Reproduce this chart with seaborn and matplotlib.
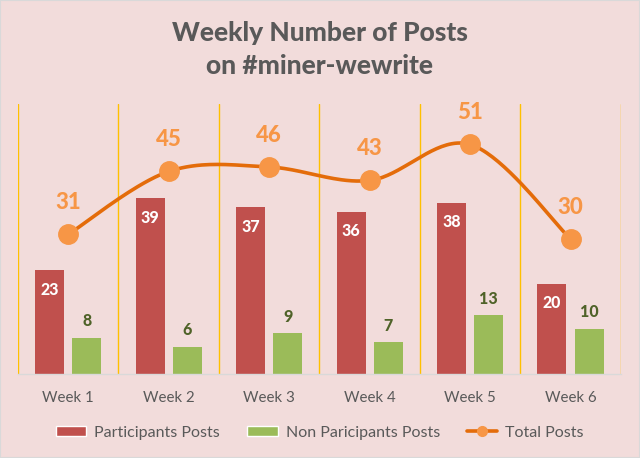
import numpy as np
import pandas as pd
import matplotlib.pyplot as plt
import seaborn as sns
from matplotlib.patches import Patch
from matplotlib.lines import Line2D

weeks = ['Week 1', 'Week 2', 'Week 3', 'Week 4', 'Week 5', 'Week 6']
participants = [23, 39, 37, 36, 38, 20]
non_participants = [8, 6, 9, 7, 13, 10]
total_posts = [31, 45, 46, 43, 51, 30]

BG = '#F2DCDB'
RED = '#C0504D'
GREEN = '#9BBB59'
LINE = '#E46C0A'
MARKER = '#F79646'
GRAY = '#595959'

sns.set_theme(style='white')
plt.rcParams['font.family'] = ['Lato', 'DejaVu Sans']

df = pd.DataFrame({
    'Week': weeks * 2,
    'Posts': participants + non_participants,
    'Type': ['Participants Posts'] * 6 + ['Non Paricipants Posts'] * 6,
})

fig = plt.figure(figsize=(6.4, 4.58), dpi=100, facecolor=BG)
fig.patches.append(plt.Rectangle((0, 0), 1, 1, transform=fig.transFigure,
                                 facecolor='none', edgecolor='#D9D9D9', lw=1.5))
ax = fig.add_axes([0.028, 0.1834, 0.942, 0.5896])
ax.set_facecolor(BG)

sns.barplot(data=df, x='Week', y='Posts', hue='Type', ax=ax,
            palette=[RED, GREEN], width=0.74, gap=0.22, legend=False,
            saturation=1, edgecolor='none')


def excel_smooth(xs, ys, n=40):
    # bezier segments with control points like excel's smoothed line
    pts = np.column_stack([xs, ys]).astype(float)
    ext = np.vstack([pts[0], pts, pts[-1]])
    out = []
    for i in range(len(pts) - 1):
        p0, p1, p2, p3 = ext[i], ext[i + 1], ext[i + 2], ext[i + 3]
        c1 = p1 + (p2 - p0) / 6
        c2 = p2 - (p3 - p1) / 6
        t = np.linspace(0, 1, n)[:, None]
        seg = ((1 - t) ** 3) * p1 + 3 * ((1 - t) ** 2) * t * c1 + 3 * (1 - t) * t ** 2 * c2 + t ** 3 * p2
        out.append(seg)
    return np.vstack(out)


xpos = np.arange(len(weeks))
curve = excel_smooth(xpos, total_posts)
ax.plot(curve[:, 0], curve[:, 1], color=LINE, lw=2.6, zorder=3, solid_capstyle='round')
ax.plot(xpos, total_posts, 'o', ms=14, color=MARKER, zorder=4)

for x, v in zip(xpos, total_posts):
    ax.annotate(str(v), (x, v), xytext=(0, 23), textcoords='offset points',
                ha='center', va='center', fontsize=16, fontweight='black', color=MARKER)
for x, v in zip(xpos, participants):
    ax.annotate(str(v), (x - 0.185, v), xytext=(0, -14), textcoords='offset points',
                ha='center', va='center', fontsize=11.5, fontweight='black', color='white')
for x, v in zip(xpos, non_participants):
    ax.annotate(str(v), (x + 0.185, v), xytext=(0, 12), textcoords='offset points',
                ha='center', va='center', fontsize=11.5, fontweight='black', color='#4F6228')

ax.set_xlim(-0.5, 5.5)
ax.set_ylim(0, 60)
ax.set_yticks([])
ax.set_xlabel('')
ax.set_ylabel('')
for b in np.arange(-0.5, 6, 1):
    ax.axvline(b, color='#FFC000', lw=1, zorder=0)
for s in ['top', 'left', 'right']:
    ax.spines[s].set_visible(False)
ax.spines['bottom'].set_color('#D9D9D9')
ax.spines['bottom'].set_linewidth(1)
ax.tick_params(axis='x', length=0, pad=12, labelsize=10.8, labelcolor=GRAY)

fig.text(0.5, 0.891, 'Weekly Number of Posts\non #miner-wewrite', ha='center', va='center',
         fontsize=19, fontweight='black', color=GRAY, linespacing=1.45)

handles = [
    Patch(facecolor=RED, label='Participants Posts'),
    Patch(facecolor=GREEN, label='Non Paricipants Posts'),
    Line2D([0], [0], color=LINE, lw=2.6, marker='o', ms=7, markerfacecolor=MARKER,
           markeredgecolor=MARKER, label='Total Posts'),
]
fig.legend(handles=handles, loc='center', bbox_to_anchor=(0.5, 0.055), ncol=3,
           frameon=False, fontsize=11.5, labelcolor=GRAY, handlelength=1.9,
           handleheight=0.6, columnspacing=1.7, handletextpad=0.5)

fig.savefig('out.png', dpi=100, facecolor=BG)
